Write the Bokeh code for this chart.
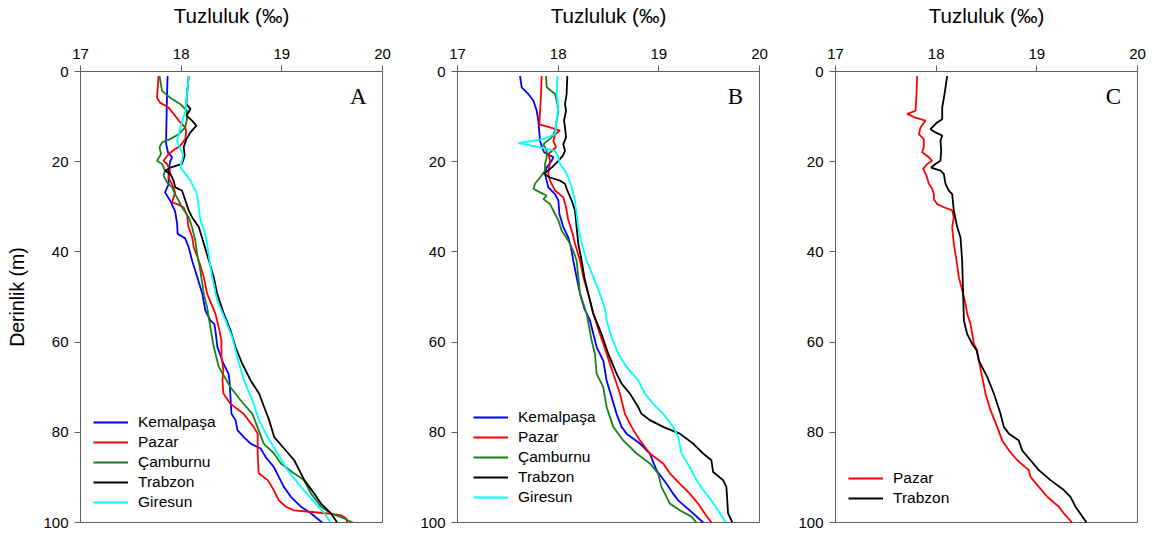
from bokeh.plotting import figure
from bokeh.layouts import row
from bokeh.models import Range1d, FixedTicker, Label, Legend, LegendItem
from bokeh.embed import file_html
from bokeh.resources import INLINE

# ---------------- data (salinity ‰ vs depth m) ----------------
X_TICKS = [17, 18, 19, 20]
Y_TICKS = [0, 20, 40, 60, 80, 100]
X_TITLE = "Tuzluluk (‰)"
Y_TITLE = "Derinlik (m)"

# Panel A
a_kem_d = [1, 5, 10, 16, 18, 19, 20, 22, 25, 26.8, 28.6, 31, 33.8, 36, 37, 39, 42, 45.6, 49.3, 53, 55.2, 56, 57.4, 61.1, 64.8, 67, 68.5, 75.9, 77.3, 79.6, 81, 82.5, 83.6, 85.5, 87.7, 89.9, 92.1, 94.3, 96.5, 98, 100]
a_kem_s = [17.865, 17.86, 17.855, 17.85, 17.87, 17.91, 17.89, 17.875, 17.875, 17.84, 17.89, 17.94, 17.96, 17.965, 18.04, 18.075, 18.11, 18.16, 18.21, 18.24, 18.29, 18.33, 18.34, 18.36, 18.42, 18.47, 18.48, 18.50, 18.54, 18.56, 18.62, 18.69, 18.79, 18.84, 18.92, 18.97, 19.02, 19.09, 19.19, 19.29, 19.40]
a_paz_d = [1, 5.8, 6.9, 8, 9.8, 11.3, 12.4, 13.5, 15, 16.5, 17.2, 18.3, 19.8, 20.5, 22, 23.5, 25, 26.8, 29, 29.4, 30.1, 32, 34.2, 36.8, 39, 41.9, 45.6, 49.3, 53.7, 57.4, 59.6, 63.3, 66.3, 68.5, 71.4, 73.7, 75.9, 78.8, 80.3, 84.7, 89.1, 90.6, 92.8, 95.1, 96.5, 97.3, 98, 98.4, 99.1, 100]
a_paz_s = [17.775, 17.76, 17.79, 17.875, 17.94, 17.99, 18.04, 18.05, 18.04, 17.99, 17.94, 17.875, 17.825, 17.86, 17.89, 17.875, 17.91, 17.94, 17.91, 17.96, 18.025, 18.06, 18.07, 18.11, 18.125, 18.175, 18.225, 18.258, 18.34, 18.38, 18.40, 18.40, 18.42, 18.41, 18.42, 18.49, 18.62, 18.72, 18.76, 18.76, 18.77, 18.86, 18.92, 18.97, 19.04, 19.12, 19.46, 19.59, 19.64, 19.65]
a_cam_d = [1, 4.3, 5.8, 7.2, 8.7, 10.6, 12.4, 13.9, 15, 15.7, 16.8, 18.3, 19.8, 20.5, 22, 23.1, 24.6, 25.7, 27.2, 28.6, 30.1, 32.3, 34.5, 37.5, 40.4, 44.1, 49.3, 52.3, 56.7, 61.1, 65.5, 70, 72.9, 75.9, 78.8, 82.5, 84.7, 86.9, 89.1, 90.6, 93.6, 96.5, 98, 99.1, 100]
a_cam_s = [17.785, 17.81, 17.89, 17.99, 18.058, 18.058, 18.04, 17.975, 17.89, 17.81, 17.785, 17.80, 17.76, 17.81, 17.84, 17.825, 17.86, 17.91, 17.94, 17.975, 18.008, 18.075, 18.108, 18.14, 18.158, 18.19, 18.225, 18.258, 18.29, 18.324, 18.374, 18.49, 18.59, 18.707, 18.757, 18.82, 18.923, 18.99, 19.12, 19.22, 19.29, 19.39, 19.49, 19.62, 19.705]
a_tra_d = [1, 5, 7.2, 8.3, 9.8, 10.9, 12, 13.5, 15, 16.8, 18.7, 20.5, 21.3, 22, 22.7, 24.2, 25.7, 26.4, 28.6, 30.8, 32.3, 34.5, 38.2, 41.9, 45.6, 49.3, 53.7, 57.4, 61.1, 64.8, 68.5, 71.4, 74.4, 77.3, 81, 83.2, 86.2, 88.4, 90.6, 93.6, 95.8, 98, 100]
a_tra_s = [18.075, 18.058, 18.052, 18.092, 18.052, 18.108, 18.151, 18.092, 18.052, 18.025, 18.035, 18.008, 17.892, 17.842, 17.892, 17.925, 17.942, 18.008, 18.042, 18.075, 18.108, 18.175, 18.225, 18.275, 18.324, 18.358, 18.424, 18.49, 18.54, 18.607, 18.69, 18.774, 18.824, 18.874, 18.923, 19.007, 19.123, 19.173, 19.223, 19.323, 19.389, 19.489, 19.549]
a_gir_d = [1, 5, 8.7, 12.4, 15.4, 16.8, 18.3, 19.8, 21.3, 22.7, 24.2, 25.7, 27.2, 30.1, 33, 35.3, 38.2, 41.9, 45.6, 50.8, 55.2, 58.9, 63.3, 68.5, 72.9, 77.3, 81, 84.7, 88.4, 92.1, 95.1, 98, 100]
a_gir_s = [18.075, 18.058, 18.042, 17.992, 17.958, 17.985, 18.018, 18.008, 17.992, 18.042, 18.092, 18.125, 18.158, 18.175, 18.191, 18.231, 18.258, 18.281, 18.308, 18.358, 18.441, 18.507, 18.557, 18.624, 18.707, 18.774, 18.857, 18.957, 19.057, 19.19, 19.306, 19.423, 19.483]

# Panel B
b_kem_d = [1, 3.5, 5, 6.5, 8.7, 10.9, 15.4, 16.5, 17.9, 19, 19.8, 21.3, 22.7, 24.2, 25.7, 27.2, 28.6, 31.6, 34.5, 36.8, 39, 41.9, 45.6, 49.3, 52.6, 55.2, 61.1, 64.1, 68.5, 72.2, 75.9, 78.8, 80.3, 82.5, 84.7, 86.6, 88.4, 91.4, 93.6, 95.1, 97.3, 100]
b_kem_s = [17.621, 17.638, 17.704, 17.754, 17.787, 17.803, 17.820, 17.836, 17.860, 17.952, 17.936, 17.886, 17.869, 17.886, 17.902, 17.969, 18.002, 18.012, 18.051, 18.101, 18.127, 18.150, 18.183, 18.217, 18.260, 18.316, 18.382, 18.448, 18.481, 18.531, 18.580, 18.630, 18.679, 18.812, 18.911, 18.944, 18.977, 19.076, 19.142, 19.192, 19.307, 19.440]
b_paz_d = [1, 5, 8.7, 11.7, 12.4, 13.1, 13.9, 15.4, 16.8, 18.3, 19.8, 22.7, 24.2, 26.4, 27.9, 30.1, 33, 36, 38.2, 41.9, 45.6, 49.3, 53.7, 58.2, 62.6, 67, 71.4, 75.9, 78.8, 81.8, 84.7, 86.9, 89.1, 91.4, 93.6, 95.8, 98, 100]
b_paz_s = [17.836, 17.830, 17.820, 17.813, 17.919, 18.018, 17.969, 17.952, 17.979, 17.902, 17.919, 17.902, 17.919, 17.969, 18.051, 18.078, 18.101, 18.144, 18.167, 18.217, 18.250, 18.299, 18.349, 18.415, 18.481, 18.547, 18.613, 18.663, 18.729, 18.812, 18.911, 19.043, 19.109, 19.208, 19.307, 19.390, 19.456, 19.522]
b_cam_d = [1, 3.5, 5, 7.2, 9, 10.9, 13.1, 14.6, 16.1, 17.6, 19, 20.5, 22, 23.5, 24.9, 26, 26.8, 27.5, 28.3, 29.4, 31.6, 33, 35.3, 37.5, 39.7, 41.9, 45.6, 49.3, 53.7, 59.6, 62.6, 67, 70, 74.4, 78.8, 81.8, 84.7, 86.9, 89.1, 92.1, 94.3, 95.8, 97.3, 98.7, 100]
b_cam_s = [17.879, 17.886, 17.969, 17.992, 18.002, 17.985, 17.969, 17.936, 17.853, 17.886, 17.886, 17.869, 17.869, 17.820, 17.770, 17.754, 17.820, 17.886, 17.853, 17.919, 17.969, 18.002, 18.035, 18.101, 18.150, 18.183, 18.200, 18.217, 18.283, 18.332, 18.365, 18.382, 18.448, 18.481, 18.547, 18.646, 18.779, 18.911, 18.993, 19.026, 19.076, 19.109, 19.208, 19.324, 19.374]
b_tra_d = [1, 5, 7.2, 8.7, 10.9, 12.4, 14.6, 16.1, 17.6, 18.7, 19.8, 21.3, 22.7, 23.5, 24.2, 24.9, 26, 28.6, 30.8, 34.5, 38.2, 41.9, 45.6, 49.3, 53.7, 58.2, 62.6, 67, 69.2, 71.4, 74.4, 75.9, 77.3, 78.8, 80.3, 82.5, 84.7, 86.2, 88.8, 90.6, 92.1, 98, 100]
b_tra_s = [18.091, 18.084, 18.068, 18.078, 18.058, 18.068, 18.078, 18.051, 18.068, 18.045, 18.002, 17.936, 17.860, 17.919, 18.018, 18.068, 18.084, 18.134, 18.167, 18.183, 18.200, 18.233, 18.260, 18.299, 18.349, 18.431, 18.498, 18.580, 18.630, 18.712, 18.795, 18.828, 18.911, 19.043, 19.208, 19.340, 19.440, 19.522, 19.539, 19.638, 19.671, 19.688, 19.731]
b_gir_d = [1, 5, 8, 10.9, 13.9, 15, 15.9, 16.8, 17.6, 19, 20.5, 22, 23.5, 25.7, 28.6, 31.6, 34.5, 38.2, 41.9, 45.6, 49.3, 52.6, 55.2, 58.9, 62.6, 65.5, 68.5, 71.4, 73.7, 75.9, 78.8, 81, 84.7, 87.7, 90.6, 92.8, 95.1, 97.3, 100]
b_gir_s = [17.992, 17.985, 18.002, 17.985, 17.969, 17.853, 17.605, 17.820, 17.969, 18.002, 18.018, 18.068, 18.101, 18.134, 18.167, 18.183, 18.200, 18.233, 18.283, 18.349, 18.415, 18.464, 18.481, 18.531, 18.597, 18.679, 18.795, 18.861, 18.944, 19.043, 19.142, 19.192, 19.225, 19.307, 19.374, 19.440, 19.522, 19.588, 19.664]

# Panel C
c_paz_d = [1, 5, 8.7, 9.4, 10.1, 10.9, 12.4, 13.9, 15, 16.8, 17.9, 19, 19.8, 20.5, 21.6, 23.1, 24.9, 26, 27.2, 28.3, 29.4, 30.1, 30.8, 32.3, 34.5, 38.2, 41.9, 45.6, 49.3, 51.5, 53.7, 55.9, 58.2, 60.4, 61.8, 64.1, 67.7, 71.4, 75.1, 78.8, 81.8, 84, 86.2, 88.4, 89.9, 92.1, 94.3, 96.5, 98, 100]
c_paz_s = [17.811, 17.805, 17.795, 17.712, 17.778, 17.894, 17.844, 17.828, 17.877, 17.877, 17.861, 17.927, 17.960, 17.911, 17.871, 17.904, 17.927, 17.960, 17.977, 17.977, 18.010, 18.076, 18.159, 18.175, 18.159, 18.175, 18.202, 18.225, 18.268, 18.291, 18.308, 18.341, 18.358, 18.374, 18.407, 18.424, 18.457, 18.490, 18.540, 18.606, 18.656, 18.722, 18.805, 18.921, 18.937, 19.020, 19.103, 19.219, 19.268, 19.351]
c_tra_d = [1, 5, 8, 10.6, 11.3, 12.8, 13.5, 14.2, 15.4, 17.6, 19.8, 20.5, 21.3, 22, 22.7, 24.9, 26.4, 27.2, 30.8, 34.5, 36.8, 41.9, 49.3, 55.2, 58.2, 60.4, 61.8, 64.1, 67.7, 71.4, 75.9, 78.8, 80.3, 81.8, 84, 86.2, 88.4, 90.6, 92.8, 94.3, 96.5, 100]
c_tra_s = [18.109, 18.083, 18.060, 18.060, 18.010, 17.944, 17.993, 18.060, 18.043, 18.050, 18.043, 17.993, 17.950, 18.043, 18.076, 18.093, 18.126, 18.159, 18.175, 18.209, 18.242, 18.258, 18.268, 18.275, 18.308, 18.358, 18.401, 18.424, 18.507, 18.573, 18.639, 18.672, 18.722, 18.821, 18.854, 18.937, 19.020, 19.136, 19.268, 19.334, 19.384, 19.493]

NAMES = ["Kemalpaşa", "Pazar", "Çamburnu", "Trabzon", "Giresun"]
COLORS = {"Kemalpaşa": "#0000ff", "Pazar": "#ff0000", "Çamburnu": "#1a801a",
          "Trabzon": "#000000", "Giresun": "#00ffff"}

AX = "#5f5f5f"
FONT = "Liberation Sans"


def make_panel(width, left, right, letter, series, leg_loc, ylabel=None):
    p = figure(width=width, height=536, x_range=Range1d(17, 20), y_range=Range1d(100, 0),
               x_axis_location="above", output_backend="svg", toolbar_location=None,
               min_border_left=left, min_border_right=right,
               min_border_top=70, min_border_bottom=14)
    p.grid.visible = False
    p.background_fill_color = "white"
    p.border_fill_color = "white"
    p.outline_line_color = AX
    p.outline_line_width = 1

    p.xaxis.ticker = FixedTicker(ticks=X_TICKS)
    p.yaxis.ticker = FixedTicker(ticks=Y_TICKS)
    for ax in (p.xaxis[0], p.yaxis[0]):
        ax.axis_line_color = AX
        ax.major_tick_line_color = AX
        ax.major_tick_out = 6
        ax.major_tick_in = 0
        ax.minor_tick_line_color = None
        ax.major_label_text_font = FONT
        ax.major_label_text_font_size = "15px"
        ax.major_label_text_color = "black"
        ax.major_label_standoff = 6
        ax.axis_label_text_font = FONT
        ax.axis_label_text_font_style = "normal"
        ax.axis_label_text_font_size = "20.5px"
        ax.axis_label_text_color = "black"
    p.xaxis.axis_label = X_TITLE
    p.xaxis.major_label_standoff = 7
    p.xaxis.axis_label_standoff = 19
    if ylabel:
        p.yaxis.axis_label = ylabel
        p.yaxis.axis_label_text_font_size = "19.5px"
        p.yaxis.axis_label_standoff = 12

    items = []
    for name, s, d in series:
        r = p.line(s, d, line_color=COLORS[name], line_width=1.8)
        items.append(LegendItem(label=name, renderers=[r]))
    leg = Legend(items=items, location=leg_loc, border_line_color=None,
                 background_fill_alpha=0, padding=0, margin=0, spacing=0,
                 glyph_width=35, glyph_height=20, label_height=20, label_standoff=10,
                 label_text_font=FONT, label_text_font_size="15.5px", label_text_color="black")
    p.add_layout(leg)

    p.add_layout(Label(x=19.76, y=5.6, text=letter, text_font="Liberation Serif",
                       text_font_size="23px", text_align="center", text_baseline="middle",
                       text_color="black"))
    return p


pA = make_panel(397, 80, 15, "A",
                [("Kemalpaşa", a_kem_s, a_kem_d), ("Pazar", a_paz_s, a_paz_d),
                 ("Çamburnu", a_cam_s, a_cam_d), ("Trabzon", a_tra_s, a_tra_d),
                 ("Giresun", a_gir_s, a_gir_d)], (13, 10), ylabel=Y_TITLE)
pB = make_panel(379, 60, 17, "B",
                [("Kemalpaşa", b_kem_s, b_kem_d), ("Pazar", b_paz_s, b_paz_d),
                 ("Çamburnu", b_cam_s, b_cam_d), ("Trabzon", b_tra_s, b_tra_d),
                 ("Giresun", b_gir_s, b_gir_d)], (16, 15))
pC = make_panel(380, 59, 19, "C",
                [("Pazar", c_paz_s, c_paz_d), ("Trabzon", c_tra_s, c_tra_d)], (13, 14))

layout = row(pA, pB, pC, spacing=0)
open("out.html", "w").write(file_html(layout, INLINE))
